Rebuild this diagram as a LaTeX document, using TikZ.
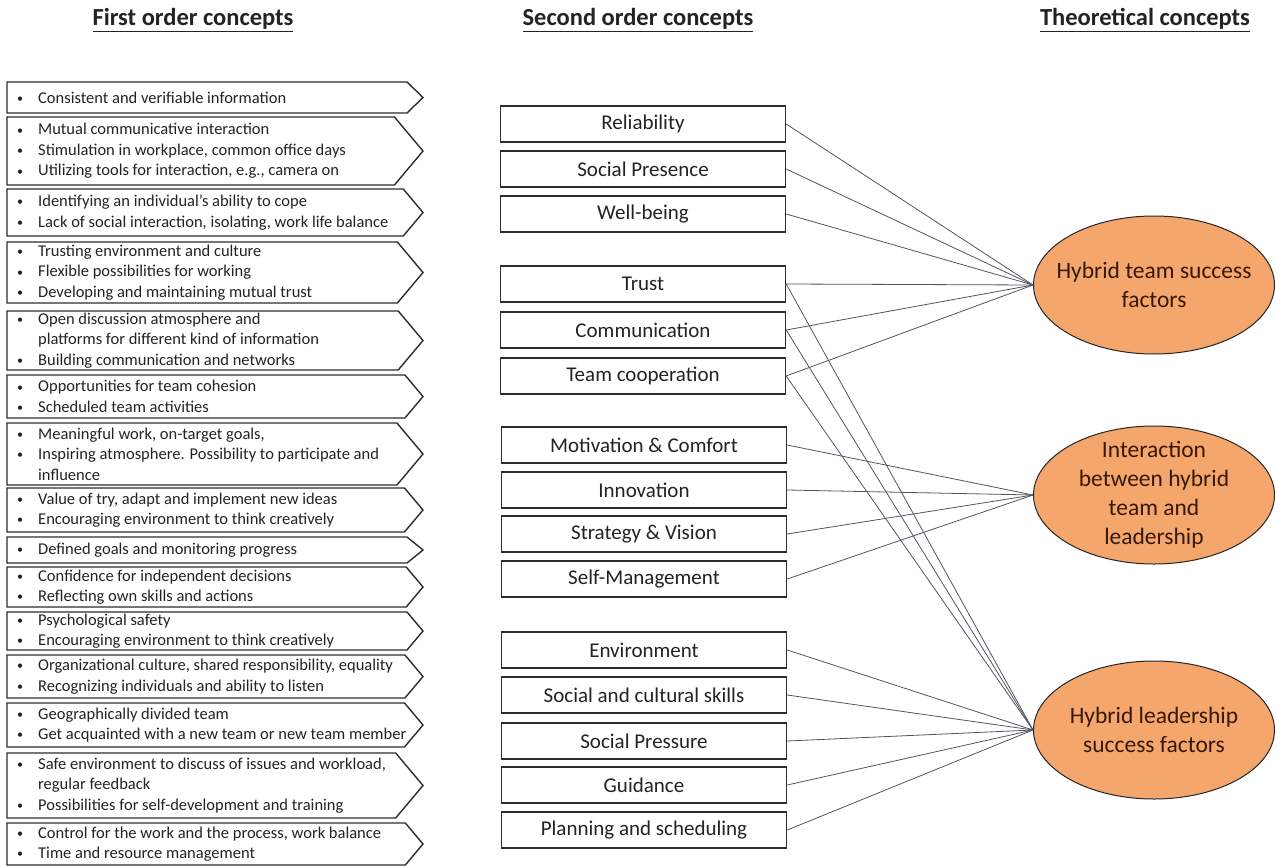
\documentclass[tikz,border=0pt]{standalone}
\usepackage{fontspec}
\setmainfont{Carlito}
\usetikzlibrary{shapes.geometric}
\definecolor{ellfill}{RGB}{244,166,108}
\definecolor{elltext}{RGB}{55,25,5}
\definecolor{boxline}{RGB}{45,45,45}
\definecolor{connc}{RGB}{80,85,95}
\definecolor{txt}{RGB}{35,35,35}
\newcommand\bl[1]{\makebox[21pt][l]{\raisebox{0.1ex}{\fontsize{12}{12}\selectfont •}}#1}
\newcommand\nb[1]{\hspace*{21pt}#1}
\tikzset{
  chevshape/.style={draw=boxline, line width=1.4pt, line join=miter, fill=white},
  ftext/.style={anchor=west, inner sep=0pt, align=left, text=txt, font=\fontsize{16.5}{20.5}\selectfont},
  mbox/.style={draw=boxline, line width=1.4pt, fill=white, minimum width=285pt, minimum height=36pt, inner sep=0pt, text=txt, font=\fontsize{21}{24}\selectfont},
  ell/.style={ellipse, draw=black!85, line width=1pt, fill=ellfill, minimum width=241pt, minimum height=138pt, inner sep=0pt},
  elltxt/.style={inner sep=0pt, align=center, text=elltext, font=\fontsize{23.5}{29}\selectfont},
  head/.style={anchor=base, inner sep=0pt, text=txt, font=\fontsize{24.5}{28}\selectfont\bfseries},
  conn/.style={draw=connc, line width=0.8pt},
}
\newcommand\chev[4]{%
  \pgfmathsetmacro\chevd{max(16,0.42*(#2-#1))}%
  \pgfmathsetmacro\chevm{(#1+#2)/2}%
  \draw[chevshape] (7,#1) -- ({423-\chevd},#1) -- (423,\chevm) -- ({423-\chevd},#2) -- (7,#2) -- cycle;%
  \node[ftext] (#3) at (17,\chevm) {#4};}
\begin{document}
\begin{tikzpicture}[x=1pt,y=-1pt]
\useasboundingbox (0,0) rectangle (1277,867);
% headers
\node[head] (h1) at (193,26) {\underline{First order concepts}};
\node[head] (h2) at (638,26) {\underline{Second order concepts}};
\node[head] (h3) at (1145,26) {\underline{Theoretical concepts}};
% first order concepts
\chev{82}{113}{f1}{\bl{Consistent and verifiable information}}
\chev{117}{185}{f2}{\bl{Mutual communicative interaction}\\\bl{Stimulation in workplace, common office days}\\\bl{Utilizing tools for interaction, e.g., camera on}}
\chev{189}{236}{f3}{\bl{Identifying an individual's ability to cope}\\\bl{Lack of social interaction, isolating, work life balance}}
\chev{242}{303}{f4}{\bl{Trusting environment and culture}\\\bl{Flexible possibilities for working}\\\bl{Developing and maintaining mutual trust}}
\chev{311}{370}{f5}{\bl{Open discussion atmosphere and}\\\nb{platforms for different kind of information}\\\bl{Building communication and networks}}
\chev{375}{418}{f6}{\bl{Opportunities for team cohesion}\\\bl{Scheduled team activities}}
\chev{423}{485}{f7}{\bl{Meaningful work, on-target goals,}\\\bl{Inspiring atmosphere. Possibility to participate and}\\\nb{influence}}
\chev{488}{532}{f8}{\bl{Value of try, adapt and implement new ideas}\\\bl{Encouraging environment to think creatively}}
\chev{537}{563}{f9}{\bl{Defined goals and monitoring progress}}
\chev{567}{607}{f10}{\bl{Confidence for independent decisions}\\\bl{Reflecting own skills and actions}}
\chev{612}{650}{f11}{\bl{Psychological safety}\\\bl{Encouraging environment to think creatively}}
\chev{655}{698}{f12}{\bl{Organizational culture, shared responsibility, equality}\\\bl{Recognizing individuals and ability to listen}}
\chev{703}{747}{f13}{\bl{Geographically divided team}\\\bl{Get acquainted with a new team or new team member}}
\chev{753}{818}{f14}{\bl{Safe environment to discuss of issues and workload,}\\\nb{regular feedback}\\\bl{Possibilities for self-development and training}}
\chev{823}{865}{f15}{\bl{Control for the work and the process, work balance}\\\bl{Time and resource management}}
% second order concepts
\node[mbox] (m1) at (643,124) {Reliability};
\node[mbox] (m2) at (643,169) {Social Presence};
\node[mbox] (m3) at (643,214) {Well-being};
\node[mbox] (m4) at (643,284) {Trust};
\node[mbox] (m5) at (643,330) {Communication};
\node[mbox] (m6) at (643,376) {Team cooperation};
\node[mbox] (m7) at (644,445) {Motivation \& Comfort};
\node[mbox] (m8) at (644,490) {Innovation};
\node[mbox] (m9) at (644,534) {Strategy \& Vision};
\node[mbox] (m10) at (644,579) {Self-Management};
\node[mbox] (m11) at (644,650) {Environment};
\node[mbox] (m12) at (644,695) {Social and cultural skills};
\node[mbox] (m13) at (644,741) {Social Pressure};
\node[mbox] (m14) at (644,785) {Guidance};
\node[mbox] (m15) at (644,830) {Planning and scheduling};
% theoretical concepts
\node[ell] (t1) at (1154,285) {};
\node[elltxt] (t1l) at (t1.center) {Hybrid team success\\factors};
\node[ell] (t2) at (1154,495) {};
\node[elltxt] (t2l) at (t2.center) {Interaction\\between hybrid\\team and\\leadership};
\node[ell] (t3) at (1154,730) {};
\node[elltxt] (t3l) at (t3.center) {Hybrid leadership\\success factors};
% connectors
\foreach \m in {m1,m2,m3,m4,m5,m6} \draw[conn] (\m.east) -- (t1.west);
\foreach \m in {m7,m8,m9,m10} \draw[conn] (\m.east) -- (t2.west);
\foreach \m in {m4,m5,m6,m11,m12,m13,m14,m15} \draw[conn] (\m.east) -- (t3.west);
\end{tikzpicture}
\end{document}
